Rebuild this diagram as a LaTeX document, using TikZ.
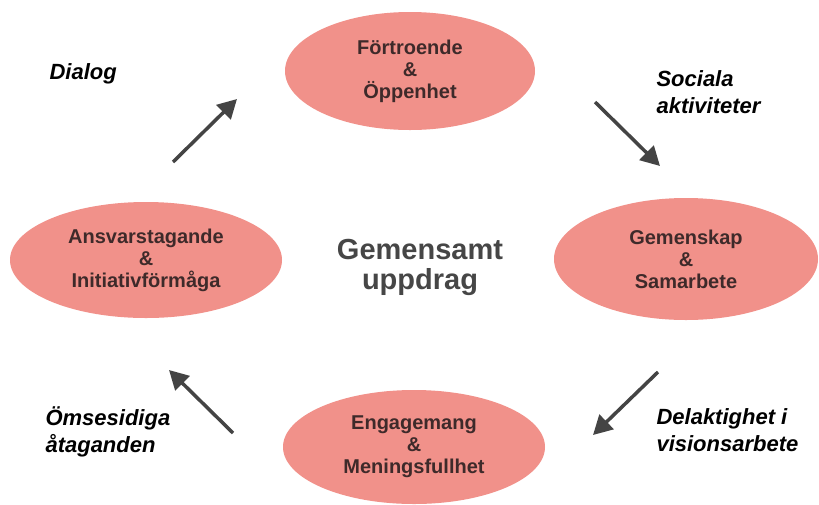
\documentclass[tikz,border=0pt]{standalone}
\usepackage{fontspec}
\setmainfont{Liberation Sans}
\usetikzlibrary{shapes.geometric,arrows.meta}
\definecolor{salmon}{RGB}{241,145,138}
\definecolor{ovaltext}{RGB}{62,42,42}
\definecolor{arrowgray}{RGB}{68,68,68}
\definecolor{midgray}{RGB}{70,70,70}
\begin{document}
\begin{tikzpicture}[x=1pt,y=-1pt,
  oval/.style={ellipse,fill=salmon,inner sep=0pt,align=center,
    text=ovaltext,font=\bfseries\fontsize{20}{22}\selectfont},
  flow/.style={arrowgray,line width=3.5pt,
    -{Triangle[length=19pt,width=20pt]}},
  remark/.style={anchor=base west,align=left,
    font=\bfseries\itshape\fontsize{22}{27}\selectfont}]
  \useasboundingbox (0,0) rectangle (819,504);

  % the four ovals
  \node[oval,minimum width=250pt,minimum height=118pt] (trust) at (410,71)
    {Förtroende\\\&\\Öppenhet};
  \node[oval,minimum width=264pt,minimum height=122pt] (team) at (686,259)
    {Gemenskap\\\&\\Samarbete};
  \node[oval,minimum width=262pt,minimum height=114pt] (commit) at (414,447)
    {Engagemang\\\&\\Meningsfullhet};
  \node[oval,minimum width=272pt,minimum height=116pt] (duty) at (146,260)
    {Ansvarstagande\\\&\\Initiativförmåga};

  % centre
  \node[align=center,text=midgray,font=\bfseries\fontsize{29}{30}\selectfont]
    (task) at (420,267) {Gemensamt\\uppdrag};

  % arrows round the circle
  \coordinate (a1) at (173,162); \coordinate (b1) at (237,99);
  \coordinate (a2) at (595,102); \coordinate (b2) at (660,166);
  \coordinate (a3) at (658,372); \coordinate (b3) at (593,435);
  \coordinate (a4) at (233,433); \coordinate (b4) at (169,370);
  \draw[flow] (a1) -- (b1);
  \draw[flow] (a2) -- (b2);
  \draw[flow] (a3) -- (b3);
  \draw[flow] (a4) -- (b4);

  % labels (base = last line)
  \node[remark] (dialog) at (46,79) {Dialog};
  \node[remark] (social) at (653,113) {Sociala\\aktiviteter};
  \node[remark] (share) at (653,451) {Delaktighet i\\visionsarbete};
  \node[remark] (mutual) at (42,452) {Ömsesidiga\\åtaganden};
\end{tikzpicture}
\end{document}
